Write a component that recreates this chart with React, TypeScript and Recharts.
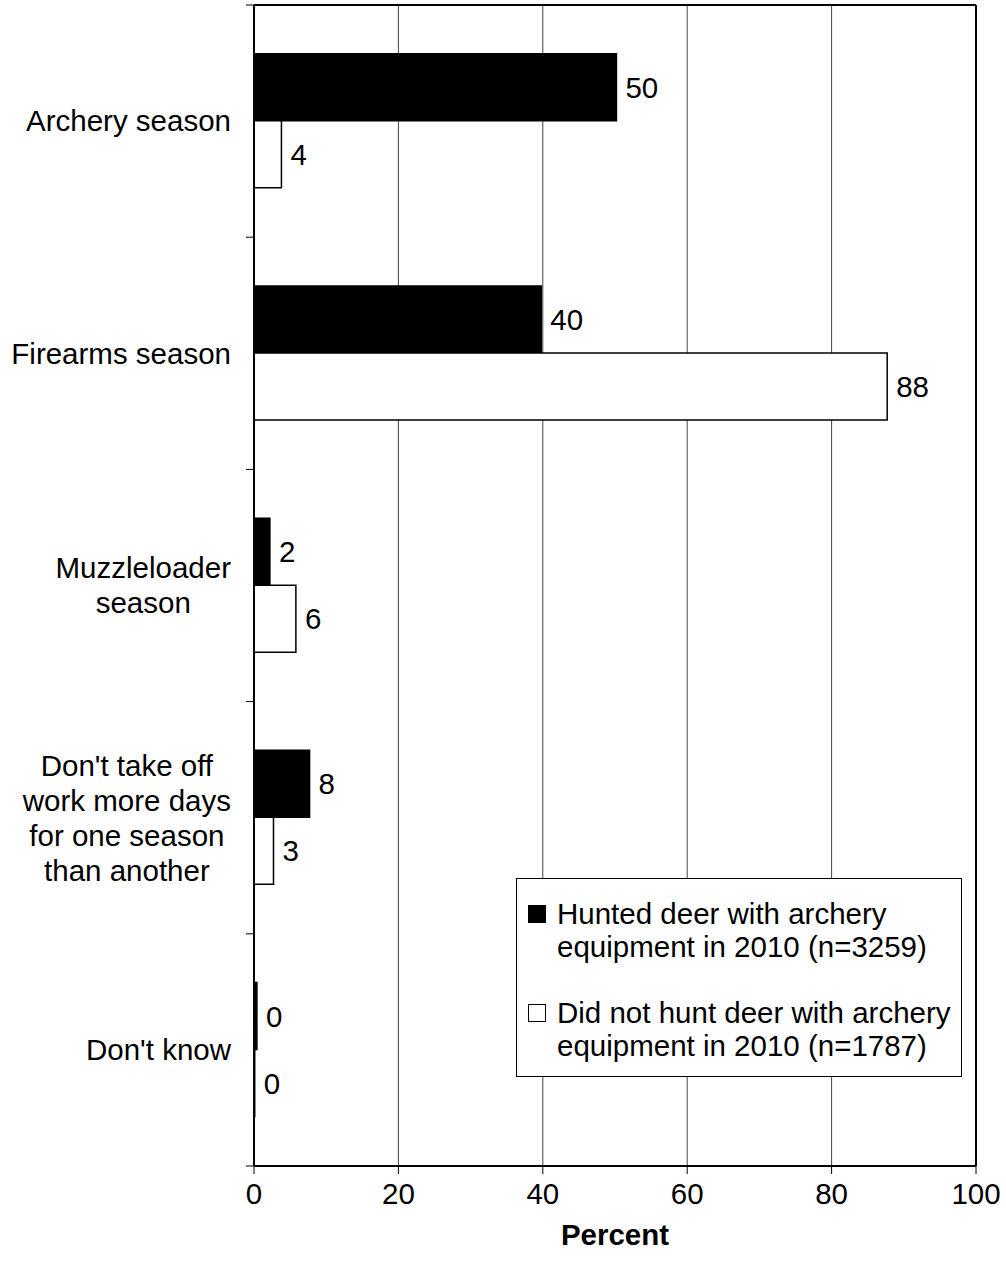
import {
  Bar,
  BarChart,
  CartesianGrid,
  LabelList,
  XAxis,
  YAxis,
} from 'recharts'

const categories = [
  ['Archery season'],
  ['Firearms season'],
  ['Muzzleloader', 'season'],
  ["Don't take off", 'work more days', 'for one season', 'than another'],
  ["Don't know"],
]
const hunted = [50.2, 39.8, 2.2, 7.7, 0.4]
const notHunted = [3.8, 87.7, 5.8, 2.7, 0.1]
const xTicks = [0, 20, 40, 60, 80, 100]
const seriesNames = [
  ['Hunted deer with archery', 'equipment in 2010 (n=3259)'],
  ['Did not hunt deer with archery', 'equipment in 2010 (n=1787)'],
]

const FONT = 'Arial, "Liberation Sans", sans-serif'
const FS = 29.5

const data = categories.map((lines, i) => ({
  name: lines.join(' '),
  hunted: hunted[i],
  notHunted: notHunted[i],
}))

let ctx: CanvasRenderingContext2D | null = null
function measure(text: string) {
  if (!ctx) ctx = document.createElement('canvas').getContext('2d')
  if (!ctx) return text.length * 15
  ctx.font = `${FS}px ${FONT}`
  return ctx.measureText(text).width
}

// plot top / bottom, used for the between-category tick marks
const PLOT_TOP = 5
const PLOT_BOTTOM = 1166

function CategoryTick(props: any) {
  const { x, y, payload, index } = props
  const n = categories.length
  const lines = categories[payload.index ?? index] ?? [payload.value]
  const band = (PLOT_BOTTOM - PLOT_TOP) / n
  const w = Math.max(...lines.map(measure))
  const cx = x - 23 - w / 2
  const lh = 35
  const y0 = y - ((lines.length - 1) * lh) / 2
  return (
    <g>
      <line x1={x - 8} x2={x} y1={y - band / 2} y2={y - band / 2} stroke='#000' />
      {index === n - 1 && (
        <line x1={x - 8} x2={x} y1={y + band / 2} y2={y + band / 2} stroke='#000' />
      )}
      <text textAnchor='middle' fontSize={FS} fontFamily={FONT} fill='#000'>
        {lines.map((l: string, i: number) => (
          <tspan key={i} x={cx} y={y0 + i * lh} dy='0.35em'>
            {l}
          </tspan>
        ))}
      </text>
    </g>
  )
}

function LegendBox() {
  const fills = ['#000', '#fff']
  return (
    <div
      style={{
        position: 'absolute',
        left: 516,
        top: 878,
        width: 446,
        height: 199,
        border: '1px solid #000',
        background: '#fff',
        fontFamily: FONT,
        fontSize: FS,
        color: '#000',
        boxSizing: 'border-box',
        padding: '18px 0 0 11px',
        lineHeight: '33px',
      }}
    >
      {seriesNames.map((lines, i) => (
        <div key={i} style={{ display: 'flex', marginBottom: i === 0 ? 33 : 0 }}>
          <div
            style={{
              width: 18,
              height: 18,
              marginTop: 8,
              marginRight: 11,
              background: fills[i],
              border: '1.5px solid #000',
              boxSizing: 'border-box',
              flexShrink: 0,
            }}
          />
          <div style={{ whiteSpace: 'nowrap' }}>
            {lines.map((l, j) => (
              <div key={j}>{l}</div>
            ))}
          </div>
        </div>
      ))}
    </div>
  )
}

export default function App() {
  return (
    <div style={{ position: 'absolute', left: 0, top: 0, width: 1006, height: 1276, background: '#fff' }}>
      <BarChart
        width={1006}
        height={1276}
        data={data}
        layout='vertical'
        margin={{ top: PLOT_TOP, right: 30, bottom: 0, left: 0 }}
        barGap={0}
        barCategoryGap='21%'
      >
        <CartesianGrid horizontal={false} stroke='#444' strokeWidth={1} />
        <CartesianGrid
          vertical={false}
          stroke='#000'
          strokeWidth={2}
          horizontalCoordinatesGenerator={({ offset }: any) => [offset.top]}
        />
        <CartesianGrid
          horizontal={false}
          stroke='#000'
          strokeWidth={2}
          verticalCoordinatesGenerator={({ offset }: any) => [offset.left + offset.width]}
        />
        <XAxis
          type='number'
          domain={[0, 100]}
          ticks={xTicks}
          tickSize={8}
          tickMargin={9}
          axisLine={{ stroke: '#000', strokeWidth: 2 }}
          tickLine={{ stroke: '#000' }}
          tick={{ fontSize: FS, fontFamily: FONT, fill: '#000' }}
          height={110}
          label={{
            value: 'Percent',
            position: 'insideTop',
            offset: 58,
            style: { fontSize: FS, fontWeight: 'bold', fontFamily: FONT, fill: '#000' },
          }}
        />
        <YAxis
          type='category'
          dataKey='name'
          width={254}
          tickLine={false}
          tickSize={0}
          tickMargin={0}
          axisLine={{ stroke: '#000', strokeWidth: 2 }}
          tick={<CategoryTick />}
          interval={0}
        />
        <Bar dataKey='hunted' fill='#000' stroke='#000' strokeWidth={1.5} isAnimationActive={false}>
          <LabelList
            dataKey='hunted'
            position='right'
            offset={9}
            formatter={(v: any) => Math.round(Number(v))}
            style={{ fontSize: FS, fontFamily: FONT, fill: '#000' }}
          />
        </Bar>
        <Bar dataKey='notHunted' fill='#fff' stroke='#000' strokeWidth={1.5} isAnimationActive={false}>
          <LabelList
            dataKey='notHunted'
            position='right'
            offset={9}
            formatter={(v: any) => Math.round(Number(v))}
            style={{ fontSize: FS, fontFamily: FONT, fill: '#000' }}
          />
        </Bar>
      </BarChart>
      <LegendBox />
    </div>
  )
}
